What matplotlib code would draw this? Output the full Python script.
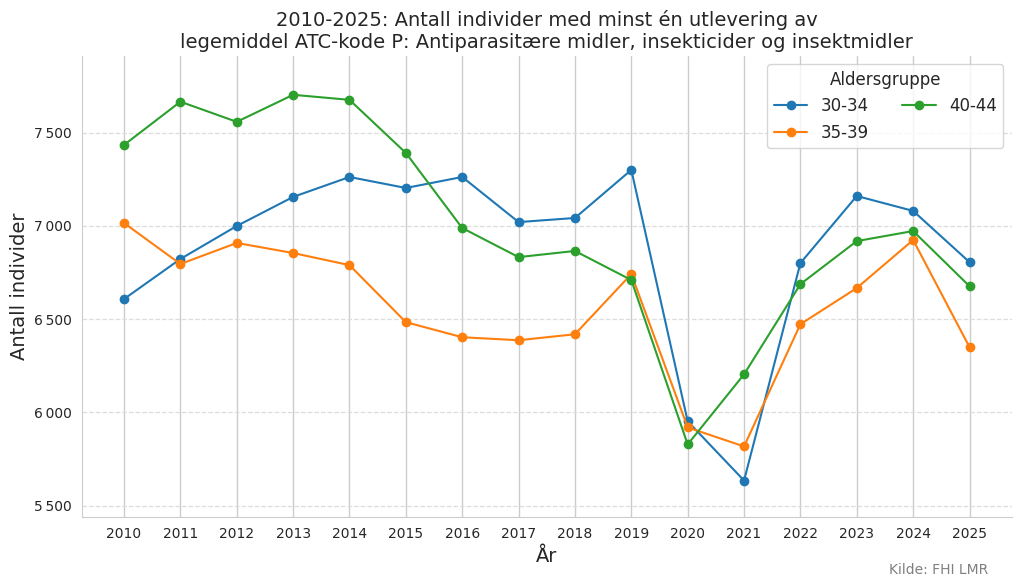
import matplotlib
matplotlib.use("Agg")
import matplotlib.pyplot as plt
import matplotlib.ticker as mticker
import seaborn as sns

years = list(range(2010, 2026))
age_groups = ["30-34", "35-39", "40-44"]

# values
vals_30_34 = [6608, 6823, 7000, 7156, 7263, 7204, 7263, 7021, 7043, 7301,
              5952, 5634, 6801, 7161, 7081, 6806]
vals_35_39 = [7016, 6796, 6909, 6855, 6790, 6484, 6403, 6387, 6419, 6742,
              5919, 5817, 6473, 6667, 6925, 6350]
vals_40_44 = [7435, 7667, 7559, 7704, 7677, 7392, 6989, 6833, 6866, 6710,
              5828, 6204, 6688, 6919, 6973, 6677]

series = [vals_30_34, vals_35_39, vals_40_44]
colors = ["#1f77b4", "#ff7f0e", "#2ca02c"]

sns.set_style("whitegrid")
plt.rcParams['font.family'] = ['DejaVu Sans']

fig, ax = plt.subplots(figsize=(10.22, 5.88), dpi=100)
fig.subplots_adjust(left=0.08, right=0.99, top=0.905, bottom=0.12)

for name, vals, col in zip(age_groups, series, colors):
    ax.plot(years, vals, marker="o", markersize=6, linewidth=1.5, color=col, label=name)

ax.set_title("2010-2025: Antall individer med minst én utlevering av\n"
             "legemiddel ATC-kode P: Antiparasitære midler, insekticider og insektmidler",
             fontsize=14, color="#262626")
ax.set_xlabel("År", fontsize=14)
ax.set_ylabel("Antall individer", fontsize=14)
ax.set_xticks(years)
ax.set_xlim(2009.25, 2025.75)
ax.set_ylim(5436, 7913)
ax.yaxis.set_major_locator(mticker.MultipleLocator(500))
ax.yaxis.set_major_formatter(mticker.FuncFormatter(lambda v, p: f"{int(v):,}".replace(",", "\u2009")))
ax.tick_params(labelsize=10)

ax.grid(axis="x", color="#cccccc", linewidth=1)
ax.grid(axis="y", color="#dddddd", linestyle="--", linewidth=0.9)
for side in ["top", "right"]:
    ax.spines[side].set_visible(False)
for side in ["left", "bottom"]:
    ax.spines[side].set_color("#cccccc")

leg = ax.legend(title="Aldersgruppe", ncol=2, loc="upper right", fontsize=12,
                title_fontsize=12, frameon=True, bbox_to_anchor=(1.0, 1.0))

fig.text(0.967, 0.018, "Kilde: FHI LMR", ha="right", va="bottom", fontsize=10, color="gray")

fig.savefig("out.png", dpi=100)
